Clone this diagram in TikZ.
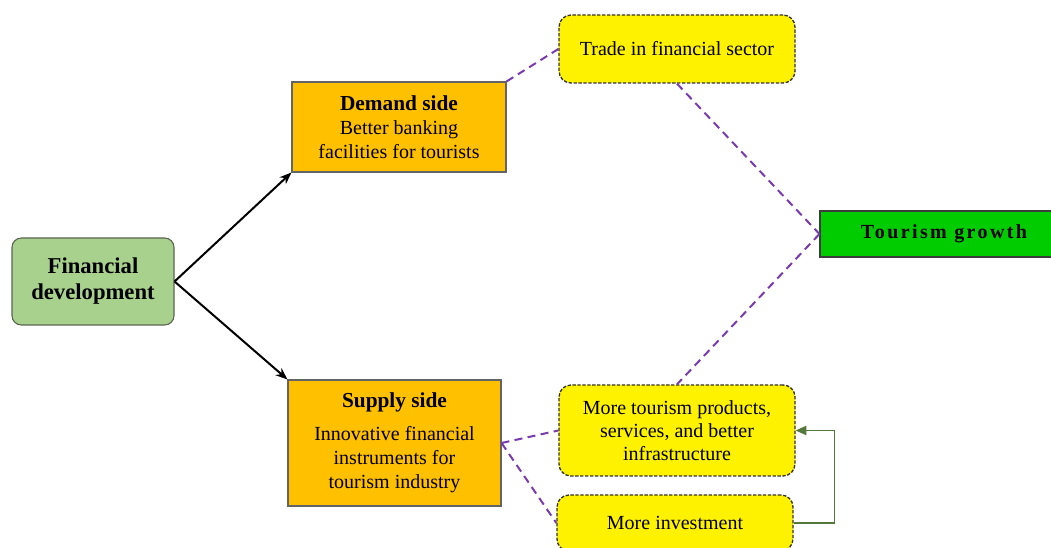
\documentclass[tikz,border=0pt]{standalone}
\usepackage{fontspec}
\setmainfont{Liberation Serif}
\usetikzlibrary{arrows.meta}
\definecolor{fingreen}{RGB}{169,209,142}
\definecolor{orangebox}{RGB}{255,192,0}
\definecolor{tgreen}{RGB}{0,204,0}
\definecolor{purp}{RGB}{120,60,175}
\definecolor{darkgreen}{RGB}{84,120,60}
\begin{document}
\begin{tikzpicture}[x=0.75pt,y=-0.75pt,
  finbox/.style={draw={rgb,255:red,90;green,100;blue,80}, line width=0.8pt, fill=fingreen, rounded corners=7pt, align=center, font=\fontsize{17}{19.5}\selectfont\bfseries, inner sep=0pt},
  sidebox/.style={draw={rgb,255:red,100;green,100;blue,100}, line width=0.8pt, fill=orangebox, align=center, font=\fontsize{15}{18}\selectfont, inner sep=0pt},
  ybox/.style={draw={rgb,255:red,50;green,50;blue,50}, line width=1pt, dash pattern=on 2.5pt off 1.2pt, fill=yellow, rounded corners=9pt, align=center, font=\fontsize{15}{17.5}\selectfont, inner sep=0pt},
  gbox/.style={draw={rgb,255:red,60;green,60;blue,60}, line width=0.8pt, fill=tgreen, font=\fontsize{15}{15}\selectfont\bfseries\addfontfeature{LetterSpace=12}, inner sep=0pt},
  blk/.style={line width=1.5pt, -{Stealth[length=9pt,width=7pt]}},
  pline/.style={draw=purp, line width=1.5pt, dash pattern=on 6pt off 4pt},
  garr/.style={draw=darkgreen, line width=0.9pt, -{Triangle[length=8pt,width=7pt]}}
]
\useasboundingbox (0,0) rectangle (1051,548);
\clip (0,0) rectangle (1051,548);

\node[finbox, minimum width=121.5pt, minimum height=65.25pt] (fin) at (93,281.5) {Financial\\development};
\node[sidebox, minimum width=160.5pt, minimum height=67.5pt] (dem) at (399,127) {\textbf{\fontsize{16}{18}\selectfont Demand side}\\Better banking\\facilities for tourists};
\node[sidebox, minimum width=159.75pt, minimum height=94.5pt] (sup) at (394.5,443) {\textbf{\fontsize{16}{18}\selectfont Supply side}\\[7pt]Innovative financial\\instruments for\\tourism industry};
\node[ybox, minimum width=177pt, minimum height=51pt] (trade) at (677,49) {Trade in financial sector};
\node[gbox, minimum width=180pt, minimum height=34.5pt] (tg) at (940,234) {\hspace*{6pt}Tourism growth};
\node[ybox, minimum width=177pt, minimum height=68.25pt] (prod) at (677,430.5) {More tourism products,\\services, and better\\infrastructure};
\node[ybox, minimum width=177pt, minimum height=42pt] (inv) at (675,523) {More investment};

\draw[blk] (fin.east) -- (dem.south west);
\draw[blk] (fin.east) -- (sup.north west);

\draw[pline] (dem.north east) -- (trade.west);
\draw[pline] (trade.south) -- (tg.west);
\draw[pline] (tg.west) -- (prod.north);
\draw[pline] (sup.east) -- (prod.west);
\draw[pline] (sup.east) -- (inv.west);

\draw[garr] (inv.east) -- ++(41,0) |- (prod.east);
\end{tikzpicture}
\end{document}
